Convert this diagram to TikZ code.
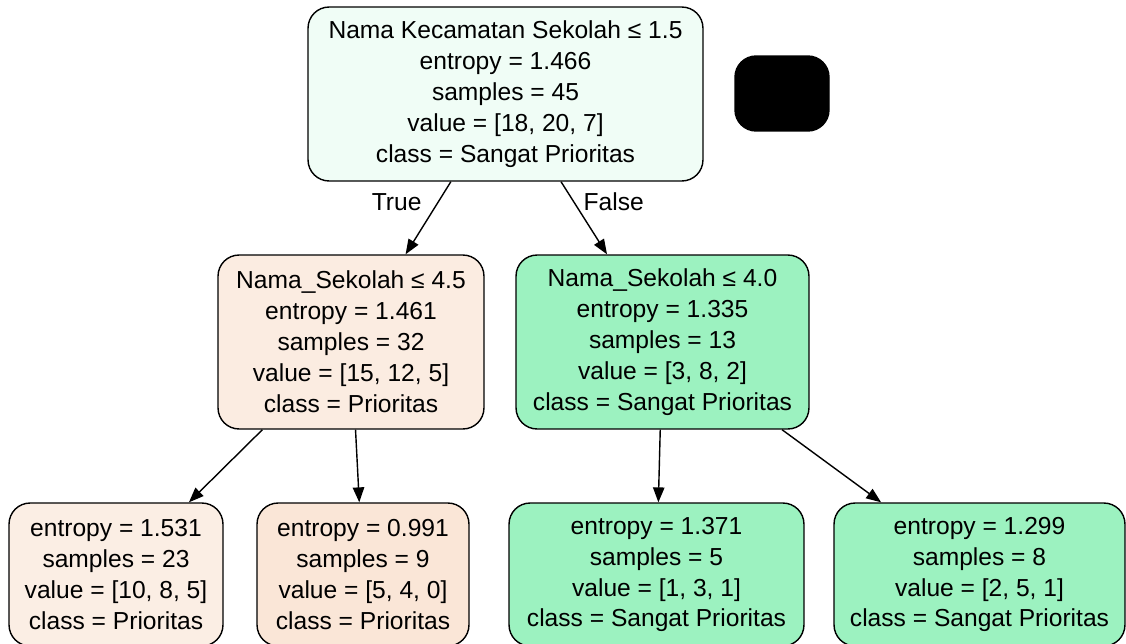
\documentclass[tikz,border=0pt]{standalone}
\usepackage{fontspec}
\setmainfont{Liberation Sans}
\usetikzlibrary{arrows.meta}

\definecolor{rootfill}{HTML}{F0FDF6}
\definecolor{leftfill}{HTML}{FBECE1}
\definecolor{greenfill}{HTML}{9CF2C0}
\definecolor{leafonefill}{HTML}{FBEEE4}
\definecolor{leaftwofill}{HTML}{FAE6D7}

\begin{document}
\begin{tikzpicture}[x=0.02cm, y=-0.02cm, >={Triangle[length=8.5pt,width=6.5pt]}, line join=round]
	\tikzstyle{split} = [draw, line width=0.8pt, rounded corners=12pt, align=center, minimum height=3.48cm, inner sep=0pt, font=\fontsize{14}{17.6}\selectfont];
	\tikzstyle{leaf} = [split, minimum height=2.86cm];
	\tikzstyle{edgelabel} = [inner sep=0pt, font=\fontsize{14}{17.6}\selectfont];
	\tikzstyle{every path} = [line width=0.8pt];

	\useasboundingbox (0,0) rectangle (1126,643);

	\node[split, fill=rootfill, minimum width=7.9cm] at (505.5,94) (0) {Nama Kecamatan Sekolah ≤ 1.5\\entropy = 1.466\\samples = 45\\value = [18, 20, 7]\\class = Sangat Prioritas};
	\node[draw, fill=black, rounded corners=12pt, minimum width=1.88cm, minimum height=1.5cm] at (782,93.5) (mask) {};
	\node[split, fill=leftfill, minimum width=5.32cm] at (351,342) (1) {Nama\_Sekolah ≤ 4.5\\entropy = 1.461\\samples = 32\\value = [15, 12, 5]\\class = Prioritas};
	\node[split, fill=greenfill, minimum width=5.86cm] at (662.5,342) (4) {Nama\_Sekolah ≤ 4.0\\entropy = 1.335\\samples = 13\\value = [3, 8, 2]\\class = Sangat Prioritas};
	\node[leaf, fill=leafonefill, minimum width=4.28cm] at (116,574.5) (2) {entropy = 1.531\\samples = 23\\value = [10, 8, 5]\\class = Prioritas};
	\node[leaf, fill=leaftwofill, minimum width=4.24cm] at (363,574.5) (3) {entropy = 0.991\\samples = 9\\value = [5, 4, 0]\\class = Prioritas};
	\node[leaf, fill=greenfill, minimum width=5.9cm] at (656.5,574.5) (5) {entropy = 1.371\\samples = 5\\value = [1, 3, 1]\\class = Sangat Prioritas};
	\node[leaf, fill=greenfill, minimum width=5.82cm] at (979.5,574.5) (6) {entropy = 1.299\\samples = 8\\value = [2, 5, 1]\\class = Sangat Prioritas};

	\draw[->] (0) to node[edgelabel, pos=0.28, left=0.32cm] (lbltrue) {True} (1);
	\draw[->] (0) to node[edgelabel, pos=0.28, right=0.18cm] (lblfalse) {False} (4);
	\draw[->] (1) to (2);
	\draw[->] (1) to (3);
	\draw[->] (4) to (5);
	\draw[->] (4) to (6);
\end{tikzpicture}
\end{document}
